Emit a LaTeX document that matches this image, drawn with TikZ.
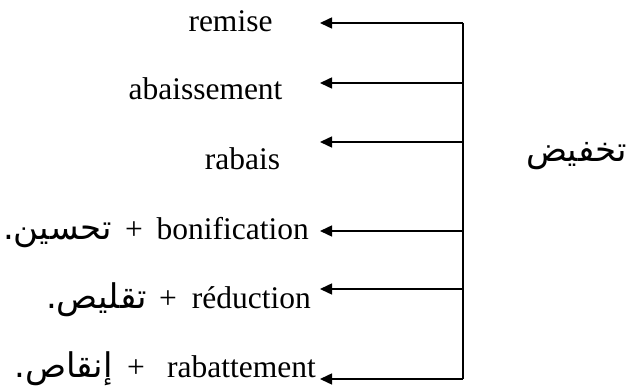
\documentclass[tikz,border=0pt]{standalone}
\usepackage{fontspec}
\setmainfont{Liberation Serif}
\newfontfamily\arabicfont[Script=Arabic]{DejaVu Sans}
\TeXXeTstate=1
\usetikzlibrary{arrows.meta}
\begin{document}
\begin{tikzpicture}[x=1pt,y=1pt,
  lbl/.style={inner sep=0pt,anchor=base,font=\fontsize{31.5}{36}\selectfont},
  lblr/.style={lbl,anchor=base east},
  arb/.style={inner sep=0pt,anchor=base east,font=\fontsize{34}{40}\arabicfont},
  spine/.style={line width=1.8pt},
  branch/.style={line width=1.5pt,-{Triangle[length=12pt,width=11pt]}}]
\useasboundingbox (0,0) rectangle (631,391);
% spine points
\coordinate (s1) at (463,368);
\coordinate (s2) at (463,308);
\coordinate (s3) at (463,249);
\coordinate (s4) at (463,160);
\coordinate (s5) at (463,102);
\coordinate (s6) at (463,12);
% arrow tips
\coordinate (t1) at (320,368);
\coordinate (t2) at (320,308);
\coordinate (t3) at (320,249);
\coordinate (t4) at (320,160);
\coordinate (t5) at (320,102);
\coordinate (t6) at (320,12);
\draw[spine] (s1) -- (s6);
\foreach \i in {1,...,6} \draw[branch] (s\i) -- (t\i);
% labels
\node[lbl] (remise) at (230.5,359) {remise};
\node[lbl] (abaiss) at (205.5,291) {abaissement};
\node[lbl] (rabais) at (242.5,221) {rabais};
\node[lblr] (bonif) at (309,151) {bonification};
\node[lbl] (plus4) at (134,151) {+};
\node[arb] (ar4) at (112,151) {\beginR تحسين.\endR};
\node[lblr] (reduc) at (311,83) {réduction};
\node[lbl] (plus5) at (168,83) {+};
\node[arb] (ar5) at (147,83) {\beginR تقليص.\endR};
\node[lblr] (rabat) at (316,14) {rabattement};
\node[lbl] (plus6) at (136,14) {+};
\node[arb] (ar6) at (113,14) {\beginR إنقاص.\endR};
\node[arb] (takhfid) at (627,229) {\beginR تخفيض\endR};
\end{tikzpicture}
\end{document}
